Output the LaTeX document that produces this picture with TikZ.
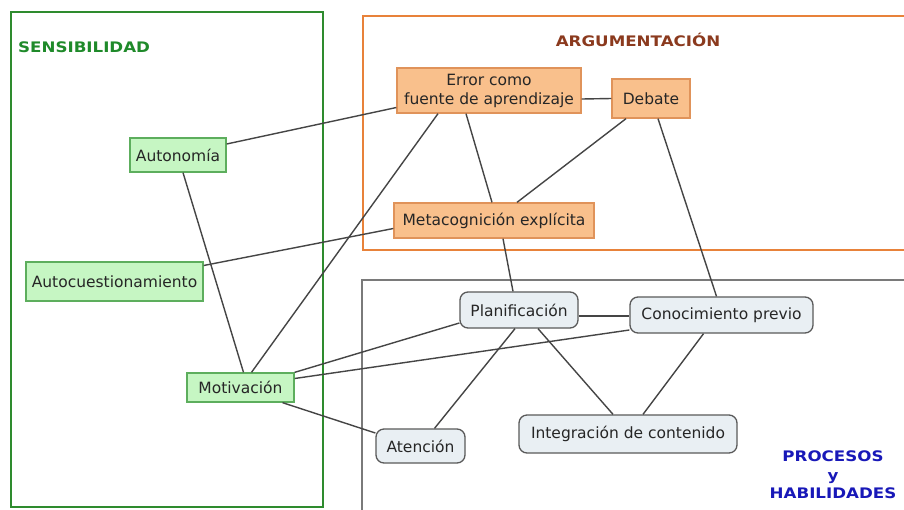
\documentclass[tikz,border=0pt]{standalone}
\usepackage{fontspec}
\setmainfont{DejaVu Sans}
\newfontfamily\ttlfont{DejaVu Sans}[FakeStretch=1.15]
\usetikzlibrary{calc}
\definecolor{gfill}{HTML}{C6F6C3}
\definecolor{gline}{HTML}{5DAE5D}
\definecolor{ofill}{HTML}{F9C08C}
\definecolor{oline}{HTML}{E0935A}
\definecolor{pfill}{HTML}{E9EFF3}
\definecolor{pline}{HTML}{5A5A5A}
\definecolor{gframe}{HTML}{2E8B2E}
\definecolor{oframe}{HTML}{E8823A}
\definecolor{pframe}{HTML}{7A7A7A}
\definecolor{edgecol}{HTML}{454545}
\definecolor{tgreen}{HTML}{1F8A2A}
\definecolor{tbrown}{HTML}{8B3A1E}
\definecolor{tblue}{HTML}{1818B8}
\begin{document}
\begin{tikzpicture}[x=1pt,y=-1pt,
  box/.style={draw, line width=1.3pt, inner sep=0pt, align=center,
    font=\fontsize{15.5}{19}\selectfont, text=black!85},
  gnode/.style={box, fill=gfill, draw=gline},
  onode/.style={box, fill=ofill, draw=oline},
  pnode/.style={box, fill=pfill, draw=pline, rounded corners=8pt},
  frame/.style={line width=2pt},
  ttl/.style={font=\ttlfont\bfseries\fontsize{14.5}{18.5}\selectfont, align=center, inner sep=0pt},
  link/.style={draw=edgecol, line width=1.4pt}]
\useasboundingbox (0,0) rectangle (904,509);
\fill[white] (0,0) rectangle (904,509);
% frames
\draw[frame, draw=gframe] (11,12) rectangle (323,507);
\draw[frame, draw=oframe] (363,16) rectangle (915,250);
\draw[frame, draw=pframe] (362,280) rectangle (915,520);
% titles
\node[ttl, text=tgreen, anchor=west] (tsen) at (18,47) {SENSIBILIDAD};
\node[ttl, text=tbrown] (targ) at (638,40) {ARGUMENTACIÓN};
\node[ttl, text=tblue] (tpro) at (833,475) {PROCESOS\\y\\HABILIDADES};
% nodes
\node[gnode, minimum width=96pt, minimum height=34pt] (auto) at (178,155) {Autonomía};
\node[gnode, minimum width=177pt, minimum height=39pt] (autoc) at (114.5,281.5) {Autocuestionamiento};
\node[gnode, minimum width=107pt, minimum height=29pt] (mot) at (240.5,387.5) {Motivación};
\node[onode, minimum width=184pt, minimum height=45pt] (err) at (489,90.5) {Error como\\fuente de aprendizaje};
\node[onode, minimum width=78pt, minimum height=39pt] (deb) at (651,98.5) {Debate};
\node[onode, minimum width=200pt, minimum height=35pt] (meta) at (494,220.5) {Metacognición explícita};
\node[pnode, minimum width=118pt, minimum height=36pt] (plan) at (519,310) {Planificación};
\node[pnode, minimum width=183pt, minimum height=36pt] (cono) at (721.5,315) {Conocimiento previo};
\node[pnode, minimum width=89pt, minimum height=34pt] (aten) at (420.5,446) {Atención};
\node[pnode, minimum width=218pt, minimum height=38pt] (integ) at (628,434) {Integración de contenido};
% links
\draw[link] ([yshift=11pt]auto.east) -- ([yshift=-17pt]err.west);
\draw[link] ([xshift=5pt]auto.south) -- ([xshift=3pt]mot.north);
\draw[link] ([yshift=16pt]autoc.east) -- ([yshift=-8pt]meta.west);
\draw[link] ([xshift=11pt]mot.north) -- ([xshift=-51pt]err.south);
\draw[link] (mot.north east) -- ([yshift=-13pt]plan.west);
\draw[link] ([yshift=9pt]mot.east) -- ([yshift=-15pt]cono.west);
\draw[link] ([xshift=42pt]mot.south) -- ([yshift=13pt]aten.west);
\draw[link] ([yshift=-8.5pt]err.east) -- (deb.west);
\draw[link] ([xshift=-23pt]err.south) -- ([xshift=-2pt]meta.north);
\draw[link] ([xshift=-25pt]deb.south) -- ([xshift=23pt]meta.north);
\draw[link] ([xshift=7pt]deb.south) -- ([xshift=-5pt]cono.north);
\draw[link] ([xshift=9pt]meta.south) -- ([xshift=-6pt]plan.north);
\draw[link] ([yshift=-6pt]plan.east) -- ([yshift=-1pt]cono.west);
\draw[link] ([xshift=-4pt]plan.south) -- ([xshift=14pt]aten.north);
\draw[link] ([xshift=19pt]plan.south) -- ([xshift=-15pt]integ.north);
\draw[link] ([xshift=-18pt]cono.south) -- ([xshift=15pt]integ.north);
\end{tikzpicture}
\end{document}
